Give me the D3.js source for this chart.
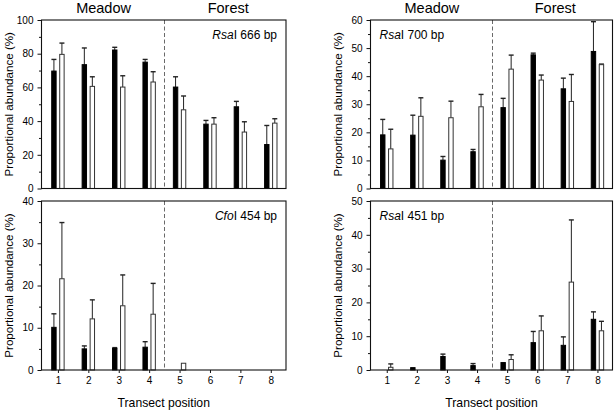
<!DOCTYPE html>
<html>
<head>
<meta charset="utf-8">
<script src="https://cdn.jsdelivr.net/npm/d3@7"></script>
<style>
  html, body { margin: 0; padding: 0; background: #fff; }
  svg { display: block; }
  text { font-family: "Liberation Sans", Arial, Helvetica, sans-serif; fill: #000; }
</style>
</head>
<body>
<svg id="chart" width="615" height="411"></svg>
<script>
// ---------- DATA ----------
const positions = [1, 2, 3, 4, 5, 6, 7, 8];
const positionLabels = ["1", "2", "3", "4", "5", "6", "7", "8"];
const zoneLabels = ["Meadow", "Forest"];
const yAxisTitle = "Proportional abundance (%)";
const xAxisTitle = "Transect position";

// RsaI 666 bp
const rsa666Black   = [69.7, 73.5, 82.2, 75.0, 60.2, 38.2, 48.5, 26.1];
const rsa666BlackSE = [6.9, 9.9, 1.6, 1.6, 6.1, 2.2, 3.2, 11.3];
const rsa666White   = [79.6, 60.6, 60.2, 63.2, 46.7, 38.2, 33.5, 38.8];
const rsa666WhiteSE = [6.7, 5.7, 6.7, 6.1, 8.2, 3.8, 6.1, 2.6];

// RsaI 700 bp
const rsa700Black   = [19.1, 19.0, 10.1, 13.1, 28.8, 47.6, 35.5, 48.8];
const rsa700BlackSE = [5.5, 7.1, 1.3, 0.8, 3.3, 0.6, 3.8, 10.6];
const rsa700White   = [14.1, 25.7, 25.2, 29.1, 42.5, 38.6, 31.0, 44.1];
const rsa700WhiteSE = [7.0, 6.6, 5.9, 4.4, 5.0, 1.8, 9.6, 0.2];

// CfoI 454 bp
const cfo454Black   = [10.1, 5.0, 5.1, 5.4, 0, 0, 0, 0];
const cfo454BlackSE = [3.2, 0.7, 0.2, 1.3, 0, 0, 0, 0];
const cfo454White   = [21.6, 12.1, 15.2, 13.2, 1.6, 0, 0, 0];
const cfo454WhiteSE = [13.3, 4.5, 7.3, 7.3, 0, 0, 0, 0];

// RsaI 451 bp
const rsa451Black   = [0, 0.7, 4.0, 1.3, 2.2, 8.1, 7.3, 15.0];
const rsa451BlackSE = [0, 0, 0.7, 0.6, 0, 3.3, 2.5, 2.2];
const rsa451White   = [0.8, 0, 0, 0, 3.1, 11.6, 26.0, 11.6];
const rsa451WhiteSE = [1.0, 0, 0, 0, 1.4, 4.4, 18.4, 2.8];

const panels = [
  { labelItalic: "Rsa", labelRest: "I 666 bp", labelAnchor: "end",
    yMax: 100, yMajor: [0, 20, 40, 60, 80, 100], yMinor: [10, 30, 50, 70, 90],
    black: rsa666Black, blackSE: rsa666BlackSE, white: rsa666White, whiteSE: rsa666WhiteSE,
    col: 0, row: 0 },
  { labelItalic: "Rsa", labelRest: "I 700 bp", labelAnchor: "start",
    yMax: 60, yMajor: [0, 10, 20, 30, 40, 50, 60], yMinor: [5, 15, 25, 35, 45, 55],
    black: rsa700Black, blackSE: rsa700BlackSE, white: rsa700White, whiteSE: rsa700WhiteSE,
    col: 1, row: 0 },
  { labelItalic: "Cfo", labelRest: "I 454 bp", labelAnchor: "end",
    yMax: 40, yMajor: [0, 10, 20, 30, 40], yMinor: [5, 15, 25, 35],
    black: cfo454Black, blackSE: cfo454BlackSE, white: cfo454White, whiteSE: cfo454WhiteSE,
    col: 0, row: 1 },
  { labelItalic: "Rsa", labelRest: "I 451 bp", labelAnchor: "start",
    yMax: 50, yMajor: [0, 10, 20, 30, 40, 50], yMinor: [5, 15, 25, 35, 45],
    black: rsa451Black, blackSE: rsa451BlackSE, white: rsa451White, whiteSE: rsa451WhiteSE,
    col: 1, row: 1 }
];

// ---------- LAYOUT ----------
const colX = [[41.5, 286], [370.5, 612.5]];
const rowY = [[188.5, 20], [370, 201]];
const barW = 5.4, barGap = 1.3, capW = 5;

const svg = d3.select("#chart");

panels.forEach(p => {
  const [x0, x1] = colX[p.col];
  const [yb, yt] = rowY[p.row];
  const x = d3.scaleLinear().domain([0.46, 8.5]).range([x0, x1]);
  const y = d3.scaleLinear().domain([0, p.yMax]).range([yb, yt]);
  const g = svg.append("g");

  // dashed divider between meadow and forest
  g.append("line")
    .attr("x1", Math.round(x(4.5)) + 0.5).attr("x2", Math.round(x(4.5)) + 0.5)
    .attr("y1", yt).attr("y2", yb)
    .attr("stroke", "#6a6a6a").attr("stroke-width", 1)
    .attr("stroke-dasharray", "4,2.5");

  const series = [
    { vals: p.black, se: p.blackSE, fill: "#000", stroke: "#000", off: -barGap - barW },
    { vals: p.white, se: p.whiteSE, fill: "#fff", stroke: "#333", off: barGap }
  ];

  series.forEach(s => {
    const data = positions.map((pos, i) => ({ pos, v: s.vals[i], se: s.se[i] }));
    // error bars (upward only)
    const eb = data.filter(d => d.v > 0 && d.se > 0);
    g.selectAll(null).data(eb).enter().append("line")
      .attr("x1", d => x(d.pos) + s.off + barW / 2).attr("x2", d => x(d.pos) + s.off + barW / 2)
      .attr("y1", d => y(d.v)).attr("y2", d => y(d.v + d.se))
      .attr("stroke", "#222").attr("stroke-width", 1);
    g.selectAll(null).data(eb).enter().append("line")
      .attr("x1", d => x(d.pos) + s.off + barW / 2 - capW / 2)
      .attr("x2", d => x(d.pos) + s.off + barW / 2 + capW / 2)
      .attr("y1", d => y(d.v + d.se)).attr("y2", d => y(d.v + d.se))
      .attr("stroke", "#222").attr("stroke-width", 1.4);
    // bars
    g.selectAll(null).data(data.filter(d => d.v > 0)).enter().append("rect")
      .attr("x", d => x(d.pos) + s.off + 0.5)
      .attr("width", barW - 1)
      .attr("y", d => y(d.v))
      .attr("height", d => y(0) - y(d.v))
      .attr("fill", s.fill).attr("stroke", s.stroke).attr("stroke-width", 1);
  });

  // frame
  g.append("rect")
    .attr("x", x0).attr("y", yt).attr("width", x1 - x0).attr("height", yb - yt)
    .attr("fill", "none").attr("stroke", "#111").attr("stroke-width", 1.1);

  // y axis major
  const ya = g.append("g").attr("transform", `translate(${x0},0)`)
    .call(d3.axisLeft(y).tickValues(p.yMajor).tickSize(4).tickPadding(4).tickFormat(d3.format("d")));
  ya.select(".domain").remove();
  ya.selectAll("text").style("font-size", "10px").attr("fill", "#000");
  ya.selectAll("line").attr("stroke", "#111");
  // y axis minor
  const ym = g.append("g").attr("transform", `translate(${x0},0)`)
    .call(d3.axisLeft(y).tickValues(p.yMinor).tickSize(2.5).tickFormat(""));
  ym.select(".domain").remove();
  ym.selectAll("line").attr("stroke", "#111");

  // y axis title
  g.append("text")
    .attr("transform", `translate(${x0 - 29},${(yt + yb) / 2}) rotate(-90)`)
    .attr("text-anchor", "middle")
    .style("font-size", "11.6px")
    .text(yAxisTitle);

  // panel label
  const lbl = g.append("text")
    .attr("x", p.labelAnchor === "end" ? x1 - 9 : x0 + 9)
    .attr("y", yt + 18.5)
    .attr("text-anchor", p.labelAnchor)
    .style("font-size", "12px");
  lbl.append("tspan").style("font-style", "italic").text(p.labelItalic);
  lbl.append("tspan").text(p.labelRest);

  if (p.row === 0) {
    g.append("text").attr("x", x(2.5)).attr("y", 12.5).attr("text-anchor", "middle")
      .style("font-size", "14.5px").text(zoneLabels[0]);
    g.append("text").attr("x", x(6.6)).attr("y", 12.5).attr("text-anchor", "middle")
      .style("font-size", "14.5px").text(zoneLabels[1]);
  } else {
    const xa = g.append("g").attr("transform", `translate(0,${yb})`)
      .call(d3.axisBottom(x).tickValues(positions).tickSize(3).tickPadding(4)
        .tickFormat((d, i) => positionLabels[i]));
    xa.select(".domain").remove();
    xa.selectAll("text").style("font-size", "10px").attr("fill", "#000");
    xa.selectAll("line").attr("stroke", "#111");
    g.append("text").attr("x", (x0 + x1) / 2).attr("y", 407).attr("text-anchor", "middle")
      .style("font-size", "12.2px").text(xAxisTitle);
  }
});
</script>
</body>
</html>
